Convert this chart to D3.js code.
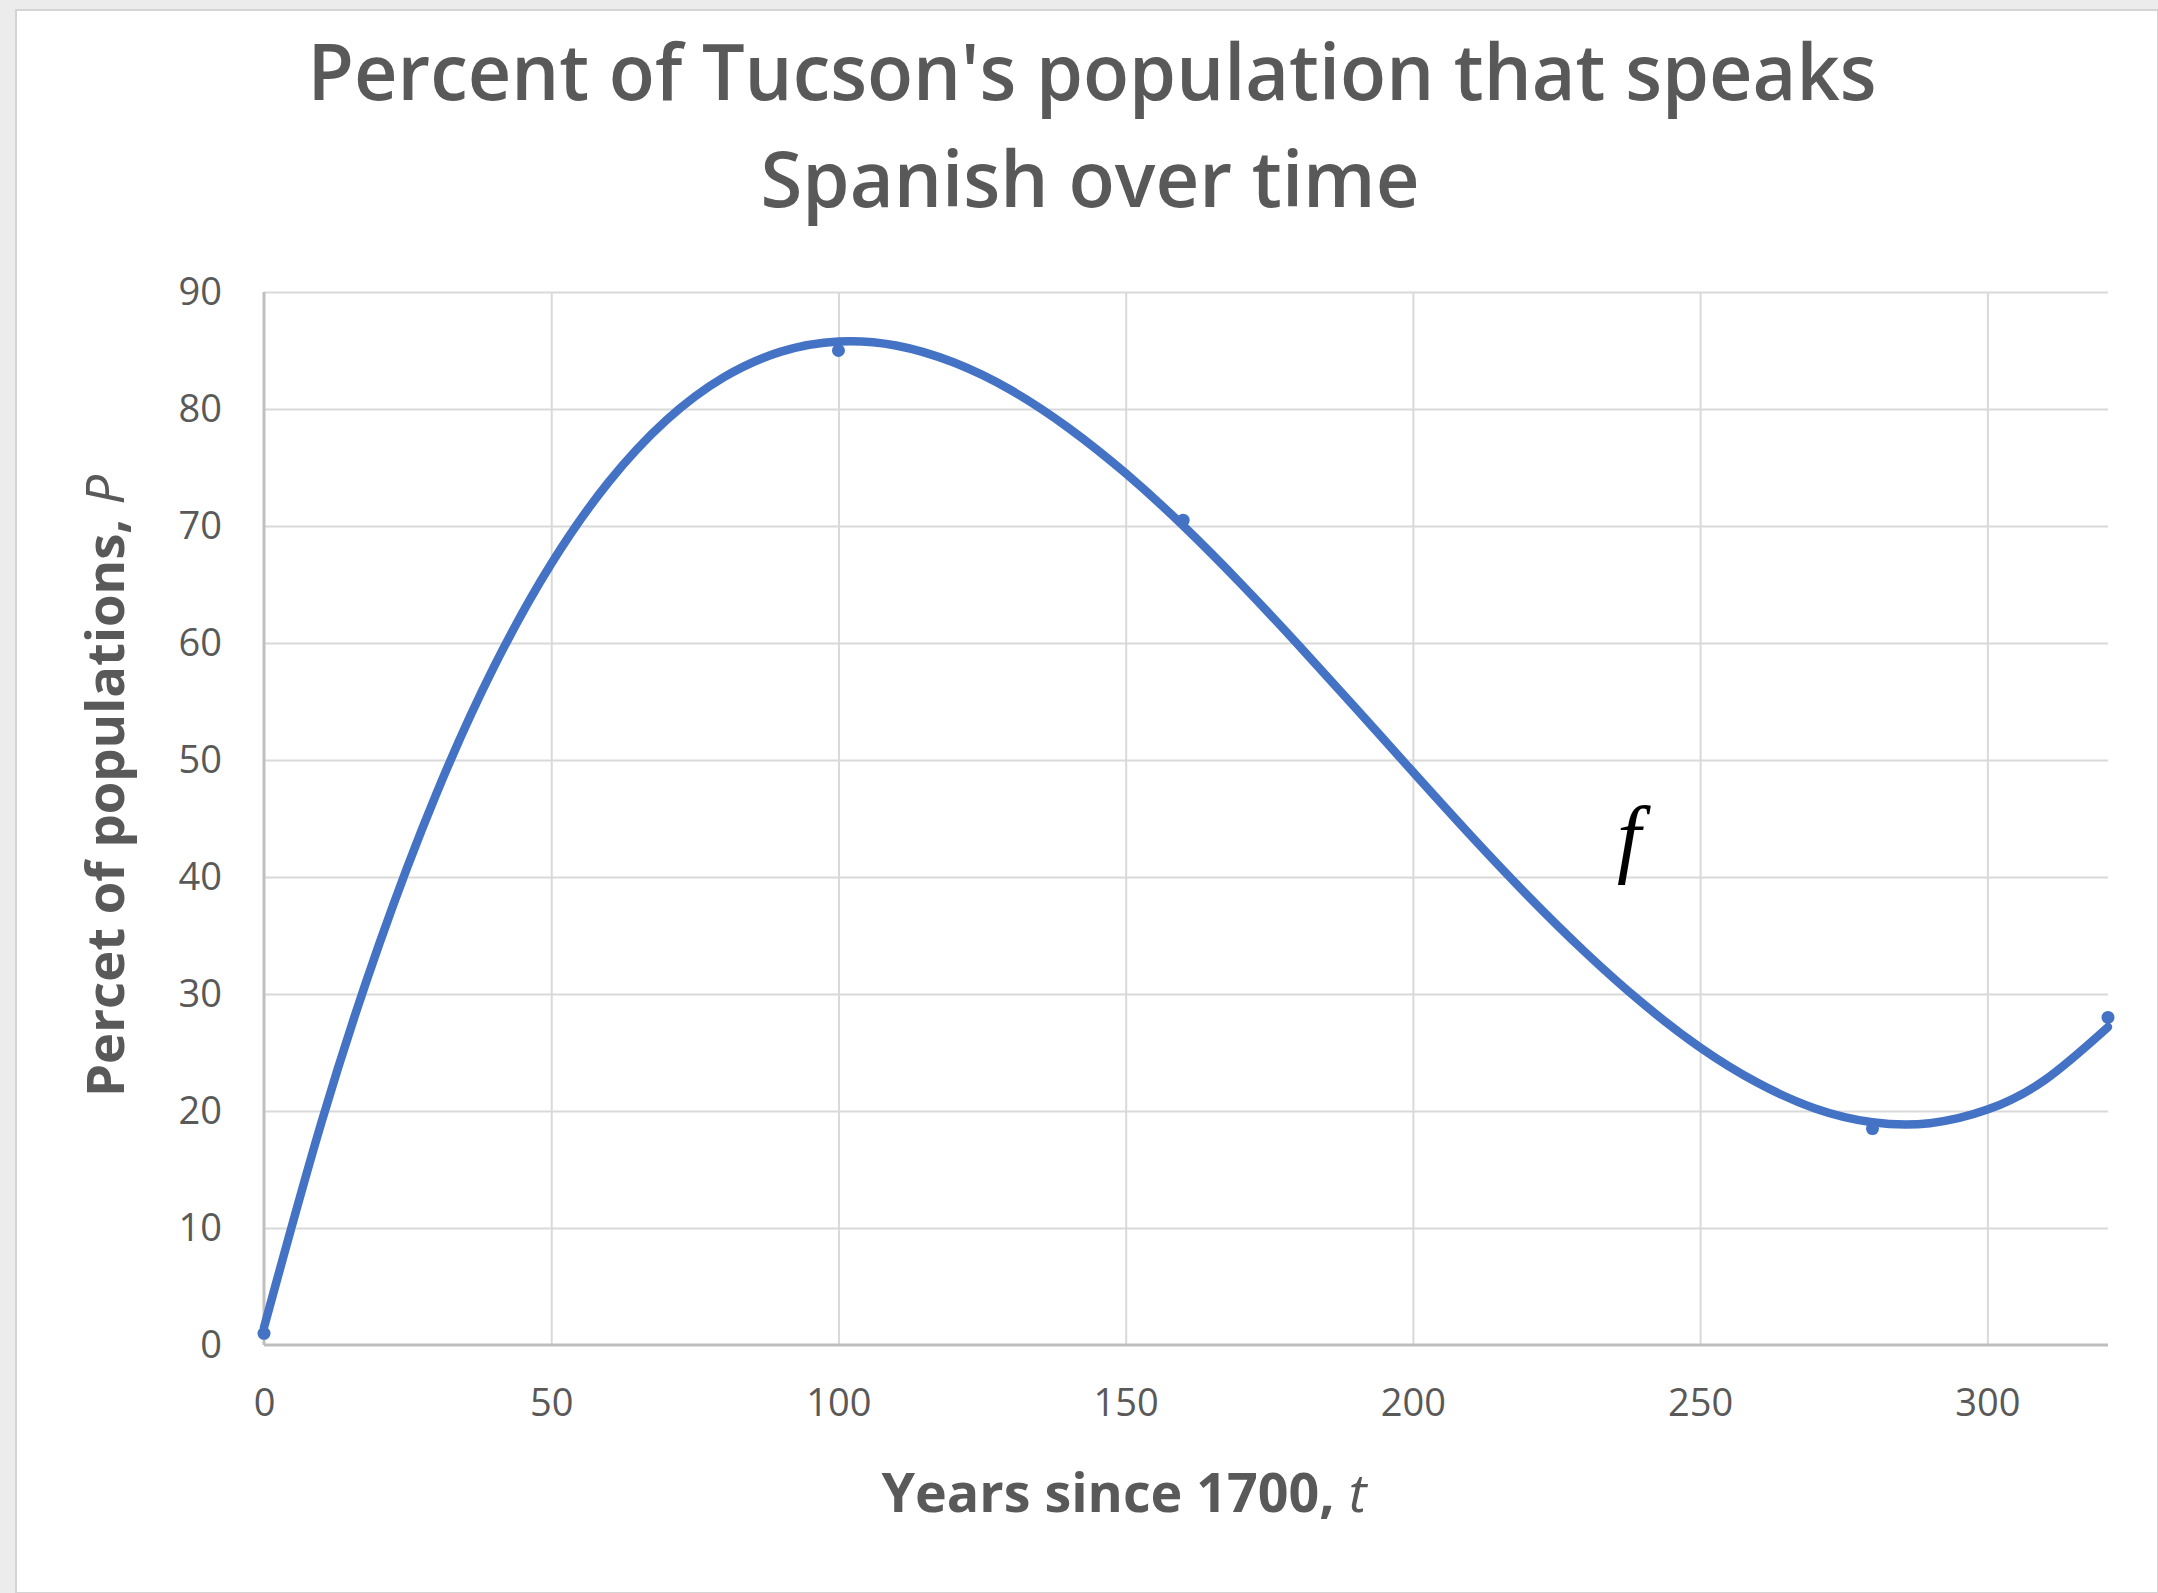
<!DOCTYPE html>
<html>
<head>
<meta charset="utf-8">
<script src="https://cdn.jsdelivr.net/npm/d3@7"></script>
<style>
  html, body { margin: 0; padding: 0; background: #ffffff; }
  svg { display: block; }
</style>
</head>
<body>
<svg id="chart" width="2158" height="1593"></svg>
<script>
// Observed values: years since 1700 and percent of Spanish speakers
const years = [0, 100, 160, 280, 321];
const percent = [1, 85, 70.5, 18.5, 28];

// Smooth trend curve f, sampled along t
const trendYears = [0, 10, 20, 30, 40, 50, 60, 70, 80, 90, 100, 110, 120, 130, 140, 150, 160,
  170, 180, 190, 200, 210, 220, 230, 240, 250, 260, 270, 280, 290, 300, 310, 321];
const trendPercent = [1.5, 19.03, 34.19, 47.11, 57.93, 66.77, 73.76, 79.03, 82.70, 84.90, 85.77,
  85.43, 83.99, 81.62, 78.40, 74.50, 70.03, 65.10, 59.87, 54.46, 48.98, 43.58, 38.40, 33.57,
  29.20, 25.43, 22.41, 20.22, 19.04, 18.96, 20.12, 22.65, 27.17];

const xTicks = [0, 50, 100, 150, 200, 250, 300];
const yTicks = [0, 10, 20, 30, 40, 50, 60, 70, 80, 90];

const titleLines = ["Percent of Tucson's population that speaks", "Spanish over time"];
const xTitle = ["Years since 1700,", "t"];
const yTitle = ["Percet of populations,", "P"];

const svg = d3.select("#chart");
const W = 2158, H = 1593;
const plot = { left: 264, right: 2108, top: 292, bottom: 1345 };
const textColor = "#595959";
const font = "'Open Sans', sans-serif";

// Window-like frame around the chart area
svg.append("rect").attr("x", 0).attr("y", 0).attr("width", W).attr("height", H).attr("fill", "#ececec");
svg.append("rect").attr("x", 16).attr("y", 10).attr("width", W - 16).attr("height", H - 10)
  .attr("fill", "#ffffff").attr("stroke", "#d4d4d4").attr("stroke-width", 2);

const x = d3.scaleLinear().domain([0, 321]).range([plot.left, plot.right]);
const y = d3.scaleLinear().domain([0, 90]).range([plot.bottom, plot.top]);

// Horizontal gridlines
svg.append("g")
  .attr("transform", `translate(${plot.left},0)`)
  .call(d3.axisLeft(y).tickValues(yTicks.filter(v => v > 0)).tickSize(-(plot.right - plot.left)).tickFormat(""))
  .call(g => g.select(".domain").remove())
  .call(g => g.selectAll("line").attr("stroke", "#d9d9d9").attr("stroke-width", 2));

// Vertical gridlines
svg.append("g")
  .attr("transform", `translate(0,${plot.bottom})`)
  .call(d3.axisBottom(x).tickValues(xTicks.filter(v => v > 0)).tickSize(-(plot.bottom - plot.top)).tickFormat(""))
  .call(g => g.select(".domain").remove())
  .call(g => g.selectAll("line").attr("stroke", "#d9d9d9").attr("stroke-width", 2));

// Axis lines
svg.append("line").attr("x1", plot.left).attr("x2", plot.left).attr("y1", plot.top).attr("y2", plot.bottom)
  .attr("stroke", "#bfbfbf").attr("stroke-width", 3);
svg.append("line").attr("x1", plot.left).attr("x2", plot.right).attr("y1", plot.bottom).attr("y2", plot.bottom)
  .attr("stroke", "#bfbfbf").attr("stroke-width", 3);

// Tick labels
const yAxis = svg.append("g")
  .attr("transform", `translate(${plot.left},0)`)
  .call(d3.axisLeft(y).tickValues(yTicks).tickSize(0).tickPadding(42));
yAxis.select(".domain").remove();
yAxis.selectAll("text").attr("fill", textColor).attr("font-family", font)
  .attr("font-size", 38).attr("dy", "0.34em");

const xAxis = svg.append("g")
  .attr("transform", `translate(0,${plot.bottom})`)
  .call(d3.axisBottom(x).tickValues(xTicks).tickSize(0).tickPadding(44));
xAxis.select(".domain").remove();
xAxis.selectAll("text").attr("fill", textColor).attr("font-family", font)
  .attr("font-size", 38).attr("dy", "0.71em");

// Trend curve
const line = d3.line().x((d, i) => x(trendYears[i])).y(d => y(d)).curve(d3.curveNatural);
svg.append("path").datum(trendPercent)
  .attr("d", line).attr("fill", "none").attr("stroke", "#4472c4")
  .attr("stroke-width", 8.5).attr("stroke-linecap", "round").attr("stroke-linejoin", "round");

// Observed points
svg.append("g").selectAll("circle").data(years).join("circle")
  .attr("cx", d => x(d)).attr("cy", (d, i) => y(percent[i])).attr("r", 6.5).attr("fill", "#4472c4");

// Curve label
svg.append("text").attr("x", 1629).attr("y", 866).attr("text-anchor", "middle")
  .attr("font-family", "'Liberation Serif', 'Times New Roman', serif").attr("font-style", "italic")
  .attr("font-size", 86).attr("fill", "#000000").text("f");

// Title
const titleSpecs = [{ cx: 1092, base: 100, width: 1569 }, { cx: 1090, base: 207, width: 659 }];
titleLines.forEach((t, i) => {
  svg.append("text").attr("x", titleSpecs[i].cx).attr("y", titleSpecs[i].base).attr("text-anchor", "middle")
    .attr("font-family", font).attr("font-weight", 600).attr("font-size", 77)
    .attr("fill", textColor).attr("textLength", titleSpecs[i].width).attr("lengthAdjust", "spacingAndGlyphs")
    .text(t);
});

// Axis title: bold words followed by an italic variable, sized to a target width
function axisTitle(parent, parts, targetWidth, baseSize) {
  const bold = parent.append("text").attr("font-family", font).attr("font-weight", 700)
    .attr("font-size", baseSize).attr("fill", textColor).text(parts[0]);
  const ital = parent.append("text").attr("font-family", font).attr("font-style", "italic")
    .attr("font-weight", 400).attr("font-size", baseSize).attr("fill", textColor).text(parts[1]);
  const gap = baseSize * 0.26;
  const w0 = bold.node().getComputedTextLength();
  const w1 = ital.node().getComputedTextLength();
  const k = targetWidth / (w0 + gap + w1);
  const size = baseSize * k;
  bold.attr("font-size", size).attr("x", -targetWidth / 2);
  ital.attr("font-size", size).attr("x", -targetWidth / 2 + (w0 + gap) * k);
}

axisTitle(svg.append("g").attr("transform", "translate(1124,1512)"), xTitle, 485, 56);
axisTitle(svg.append("g").attr("transform", "translate(124,786) rotate(-90)"), yTitle, 622, 56);
</script>
</body>
</html>
